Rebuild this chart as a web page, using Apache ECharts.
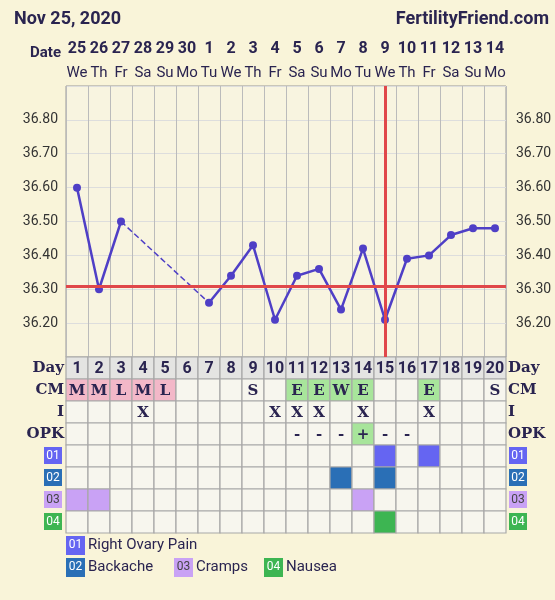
<!DOCTYPE html><html><head><meta charset="utf-8">
<script src="https://cdn.jsdelivr.net/npm/echarts@6/dist/echarts.min.js"></script>
<style>html,body{margin:0;padding:0;background:#f9f4d9}#c{width:555px;height:600px}</style></head><body><div id="c"></div>
<script>
const dates=['25','26','27','28','29','30','1','2','3','4','5','6','7','8','9','10','11','12','13','14'];
const weekdays=['We','Th','Fr','Sa','Su','Mo','Tu','We','Th','Fr','Sa','Su','Mo','Tu','We','Th','Fr','Sa','Su','Mo'];
const days=['1','2','3','4','5','6','7','8','9','10','11','12','13','14','15','16','17','18','19','20'];
const temps=[36.60,36.30,36.50,null,null,null,36.26,36.34,36.43,36.21,36.34,36.36,36.24,36.42,36.21,36.39,36.40,36.46,36.48,36.48];
const coverline=36.31;
const ovulationDay=15;
const yTicks=['36.20','36.30','36.40','36.50','36.60','36.70','36.80'];
const rowNames=['Day','CM','I','OPK','01','02','03','04'];
const cm=['M','M','L','M','L','','','','S','','E','E','W','E','','','E','','','S'];
const intercourse=['','','','X','','','','','','X','X','X','','X','','','X','','',''];
const opk=['','','','','','','','','','','-','-','-','+','-','-','','','',''];
const sym01=[15,17], sym02=[13,15], sym03=[1,2,14], sym04=[15];
const symNames=['Right Ovary Pain','Backache','Cramps','Nausea'];
const symColors=['#6565f2','#2a6fb6','#c9a2f5','#3db552'];

const cells=[];
days.forEach((d,i)=>{
  cells.push([i,0,d,'#e4e4e2']);
  const c=cm[i]; cells.push([i,1,c,(c==='M'||c==='L')?'#f3b8c8':(c==='E'||c==='W')?'#a8e59b':'#f7f6ee']);
  cells.push([i,2,intercourse[i],'#f7f6ee']);
  cells.push([i,3,opk[i],opk[i]==='+'?'#a8e59b':'#f7f6ee']);
  [sym01,sym02,sym03,sym04].forEach((s,k)=>cells.push([i,4+k,'',s.includes(i+1)?symColors[k]:'#f7f6ee']));
});
const dashed=temps.map((v,i)=>(i===2||i===6)?v:null);

const serif='"DejaVu Serif",serif';
const g=[];
const lab=(t,x,y,align)=>({type:'text',x,y,style:{text:t,font:'bold 15px '+serif,fill:'#2a2450',textAlign:align,textVerticalAlign:'middle'}});
['Day','CM','I','OPK'].forEach((t,k)=>{g.push(lab(t,64,368+22*k,'right'));g.push(lab(t,508,368+22*k,'left'));});
for(let k=0;k<4;k++){
  [[44],[509]].forEach(([x])=>{
    g.push({type:'rect',shape:{x:x,y:447+22*k,width:18,height:17},style:{fill:symColors[k]}});
    g.push({type:'text',x:x+9,y:456+22*k,style:{text:'0'+(k+1),font:'12px Roboto',fill:k===2?'#444':'#fff',textAlign:'center',textVerticalAlign:'middle'}});
  });
}
const leg=[[66,545,0],[66,567,1],[174,567,2],[264,567,3]];
leg.forEach(([x,y,k])=>{
  g.push({type:'rect',shape:{x:x,y:y-9,width:19,height:19},style:{fill:symColors[k]}});
  g.push({type:'text',x:x+9.5,y:y,style:{text:'0'+(k+1),font:'12px Roboto',fill:k===2?'#444':'#fff',textAlign:'center',textVerticalAlign:'middle'}});
  g.push({type:'text',x:x+22,y:y,style:{text:symNames[k],font:'15px Roboto',fill:'#2a2450',textVerticalAlign:'middle'}});
});
g.push({type:'text',x:14,y:19,style:{text:'Nov 25, 2020',font:'bold 18px Roboto',fill:'#2a2450',textVerticalAlign:'middle'}});
g.push({type:'text',x:549,y:19,style:{text:'FertilityFriend.com',font:'bold 18px Roboto',fill:'#2a2450',textAlign:'right',textVerticalAlign:'middle'}});
g.push({type:'text',x:61,y:53,style:{text:'Date',font:'bold 15px Roboto',fill:'#2a2450',textAlign:'right',textVerticalAlign:'middle'}});

const chart=echarts.init(document.getElementById('c'));
chart.setOption({
  animation:false,
  graphic:g,
  grid:[{left:66,width:440,top:86,height:271,show:true,backgroundColor:'#f8f4e0',borderColor:'#999',borderWidth:1},
        {left:66,width:440,top:357,height:176}],
  xAxis:[{type:'category',data:dates,gridIndex:0,position:'top',boundaryGap:true,
    axisLine:{show:false},axisTick:{show:false},
    splitLine:{show:true,interval:0,lineStyle:{color:'#bbb'}},
    axisLabel:{interval:0,margin:2,formatter:(v,i)=>'{d|'+v+'}\n{w|'+weekdays[i]+'}',
      rich:{d:{fontSize:16,fontWeight:'bold',fontFamily:'Roboto',color:'#2a2450',height:26,align:'center'},
            w:{fontSize:15,fontFamily:'Roboto',color:'#2a2450',height:22,align:'center'}}}},
    {type:'category',data:days,gridIndex:1,show:false}],
  yAxis:[{type:'value',gridIndex:0,min:36.1,max:36.9,interval:0.1,
    axisLabel:{formatter:v=>yTicks.includes(v.toFixed(2))?v.toFixed(2):'',fontSize:14,fontFamily:'Roboto',color:'#333',margin:8},
    axisLine:{show:false},axisTick:{show:false},splitLine:{lineStyle:{color:'#ddd'}}},
    {type:'value',gridIndex:0,min:36.1,max:36.9,interval:0.1,position:'right',
    axisLabel:{formatter:v=>yTicks.includes(v.toFixed(2))?v.toFixed(2):'',fontSize:14,fontFamily:'Roboto',color:'#333',margin:10},
    axisLine:{show:false},axisTick:{show:false},splitLine:{show:false}},
    {type:'category',gridIndex:1,data:rowNames,inverse:true,show:false}],
  series:[
    {type:'line',data:dashed,connectNulls:true,symbol:'none',lineStyle:{color:'#4f3fc6',width:1.5,type:'dashed'},z:3},
    {type:'line',data:temps,connectNulls:false,symbol:'circle',symbolSize:8,
     itemStyle:{color:'#4f3fc6'},lineStyle:{color:'#4f3fc6',width:2.5},z:4,
     markLine:{symbol:'none',silent:true,label:{show:false},
       data:[{yAxis:coverline,lineStyle:{color:'#e0474a',width:3,type:'solid'}},
             {xAxis:ovulationDay-1,lineStyle:{color:'#e0474a',width:3,type:'solid'}}]}},
    {type:'custom',xAxisIndex:1,yAxisIndex:2,data:cells,
     renderItem:(p,api)=>{
       const c=api.coord([api.value(0),api.value(1)]);const s=api.size([1,1]);
       const d=cells[p.dataIndex];
       return {type:'group',children:[
         {type:'rect',shape:{x:c[0]-s[0]/2,y:c[1]-s[1]/2,width:s[0],height:s[1]},style:{fill:d[3],stroke:'#a8a8a8',lineWidth:1.2}},
         {type:'text',x:c[0],y:c[1]+1,style:{text:d[2],textAlign:'center',textVerticalAlign:'middle',
           font:d[1]===0?'bold 16px Roboto':'bold 15px '+serif,fill:'#2a2450'}}]};
     }}
  ]
});
</script></body></html>
